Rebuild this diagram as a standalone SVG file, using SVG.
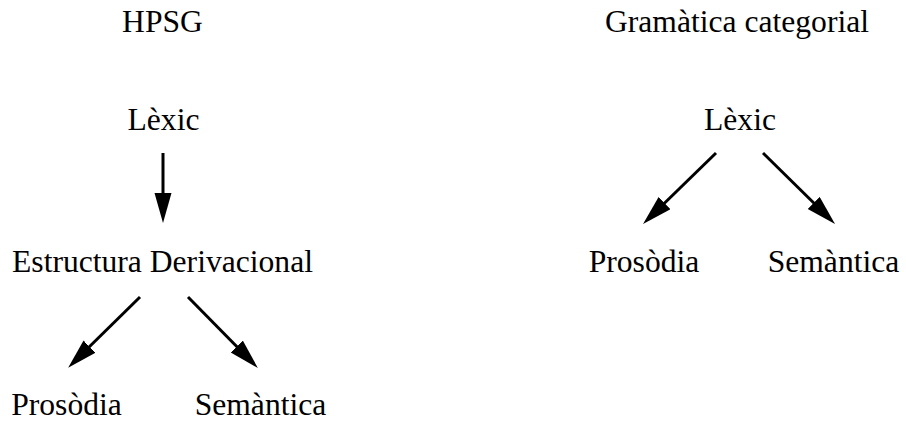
<svg xmlns="http://www.w3.org/2000/svg" width="906" height="423" viewBox="0 0 906 423">
<style>
text { font-family: "Liberation Serif", "Times New Roman", serif; font-size: 31.6px; fill: #000; text-anchor: middle; }
.c { stroke: #000; stroke-width: 3; fill: none; }
</style>
<defs>
<marker id="ah" markerUnits="userSpaceOnUse" markerWidth="32" markerHeight="19" refX="2" refY="8.5" orient="auto" viewBox="0 0 32 19">
<path d="M0,0 L30,8.5 L0,17 z" fill="#000"/>
</marker>
</defs>
<rect width="906" height="423" fill="#fff"/>
<g id="hpsg-title"><text x="162.5" y="32">HPSG</text></g>
<g id="cg-title"><text x="737" y="32">Gramàtica categorial</text></g>
<g id="hpsg-lexic"><text x="163.5" y="130">Lèxic</text></g>
<g id="hpsg-estructura"><text x="162.5" y="272">Estructura Derivacional</text></g>
<g id="hpsg-prosodia"><text x="66.5" y="415">Prosòdia</text></g>
<g id="hpsg-semantica"><text x="260.5" y="415">Semàntica</text></g>
<g id="cg-lexic"><text x="740" y="130">Lèxic</text></g>
<g id="cg-prosodia"><text x="644" y="272">Prosòdia</text></g>
<g id="cg-semantica"><text x="833.5" y="272">Semàntica</text></g>
<g id="connectors">
<path class="c" d="M163,153 L163,195" marker-end="url(#ah)"/>
<path class="c" d="M140,297 L88.1,348" marker-end="url(#ah)"/>
<path class="c" d="M188,297 L238.2,348" marker-end="url(#ah)"/>
<path class="c" d="M716,153 L663.1,204.5" marker-end="url(#ah)"/>
<path class="c" d="M763,153 L815.1,204.3" marker-end="url(#ah)"/>
</g>
</svg>
